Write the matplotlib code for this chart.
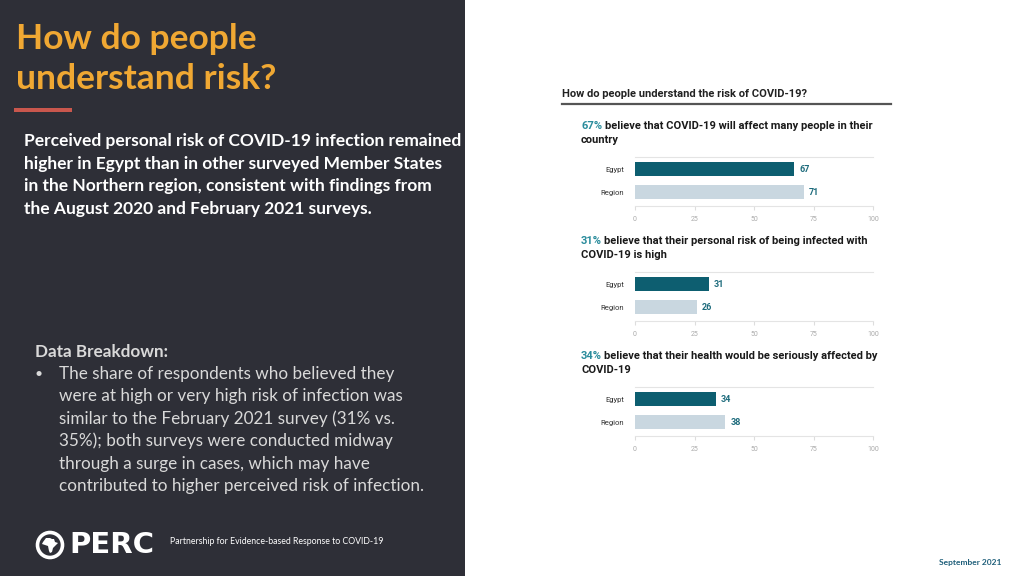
import matplotlib.pyplot as plt
from matplotlib.patches import Rectangle, Circle, Polygon

# data
categories = ['Egypt', 'Region']
panel_titles = [
    ('67%', 'believe that COVID-19 will affect many people in their', 'country'),
    ('31%', 'believe that their personal risk of being infected with', 'COVID-19 is high'),
    ('34%', 'believe that their health would be seriously affected by', 'COVID-19'),
]
panel_values = [
    [67, 71],
    [31, 26],
    [34, 38],
]
x_ticks = [0, 25, 50, 75, 100]

headline = ['How do people', 'understand risk?']
summary = [
    'Perceived personal risk of COVID-19 infection remained',
    'higher in Egypt than in other surveyed Member States',
    'in the Northern region, consistent with findings from',
    'the August 2020 and February 2021 surveys.',
]
breakdown = [
    'The share of respondents who believed they',
    'were at high or very high risk of infection was',
    'similar to the February 2021 survey (31% vs.',
    '35%); both surveys were conducted midway',
    'through a surge in cases, which may have',
    'contributed to higher perceived risk of infection.',
]

W, H = 1024, 576
DARK = '#2e2f37'
TEAL = '#0d5e70'
LIGHT = '#c9d7e0'
LBL = '#1d6b7c'

fig = plt.figure(figsize=(W / 100, H / 100), dpi=100)
fig.patch.set_facecolor('white')


def fx(x):
    return x / W


def fy(y):
    return 1 - y / H


# left dark panel
fig.add_artist(Rectangle((0, 0), fx(465), 1, transform=fig.transFigure,
                         facecolor=DARK, edgecolor='none', zorder=0))

for i, line in enumerate(headline):
    fig.text(fx(16), fy(39 + i * 40), line, color='#f0a833', fontsize=25.5,
             fontweight='bold', family='Lato', va='center', ha='left')

fig.add_artist(Rectangle((fx(14), fy(112)), fx(58), 4 / H, transform=fig.transFigure,
                         facecolor='#c9574d', edgecolor='none'))

for i, line in enumerate(summary):
    fig.text(fx(24), fy(141 + i * 22.7), line, color='white', fontsize=12.5,
             fontweight='bold', family='Lato', va='center', ha='left')

fig.text(fx(35), fy(352), 'Data Breakdown:', color='#d9d9d9', fontsize=12.3,
         fontweight='bold', family='Lato', va='center', ha='left')
fig.text(fx(35), fy(374), '•', color='#d9d9d9', fontsize=10, family='Lato',
         va='center', ha='left')
for i, line in enumerate(breakdown):
    fig.text(fx(59), fy(374 + i * 22.4), line, color='#d9d9d9', fontsize=12.3,
             family='Lato', va='center', ha='left')

# PERC logo (small equal-aspect axes)
lax = fig.add_axes([fx(35), fy(560), 30 / W, 30 / H])
lax.set_xlim(-15, 15)
lax.set_ylim(-15, 15)
lax.set_aspect('equal')
lax.axis('off')
lax.add_patch(Circle((0, 0), 12.5, facecolor='none', edgecolor='white', linewidth=2.6))
africa = [(-7, 3), (-4, 7), (0, 7), (2, 6), (4, 6), (5, 3), (8, 2), (5, -1),
          (3, -3), (2, -7), (0, -8), (-1, -6), (-2, -1), (-5, 0), (-8, 1)]
lax.add_patch(Polygon(africa, closed=True, facecolor='white', edgecolor='none'))
fig.text(fx(69), fy(545), 'PERC', color='white', fontsize=21, fontweight='bold',
         family='DejaVu Sans', va='center', ha='left')
fig.text(fx(170), fy(542), 'Partnership for Evidence-based Response to COVID-19',
         color='white', fontsize=6.3, family='Lato', va='center', ha='left')

fig.text(fx(1001), fy(562), 'September 2021', color='#1f5f7a', fontsize=6,
         fontweight='bold', family='Lato', va='center', ha='right')

# right-hand chart header
fig.text(fx(562), fy(94), 'How do people understand the risk of COVID-19?',
         color='#222222', fontsize=8, fontweight='bold', family='Roboto',
         va='center', ha='left')
fig.add_artist(plt.Line2D([fx(562), fx(891)], [fy(104), fy(104)],
                          transform=fig.transFigure, color='#555555', linewidth=1.6))

fig.canvas.draw()
for k in range(3):
    off = k * 115
    pct, rest, line2 = panel_titles[k]
    t = fig.text(fx(581), fy(126 + off), pct, color='#2a8c9c', fontsize=8,
                 fontweight='bold', family='Roboto', va='center', ha='left')
    bb = t.get_window_extent(renderer=fig.canvas.get_renderer())
    fig.text((bb.x1 + 2.5) / W, fy(126 + off), rest, color='#1a1a1a', fontsize=8,
             fontweight='bold', family='Roboto', va='center', ha='left')
    fig.text(fx(581), fy(140 + off), line2, color='#1a1a1a', fontsize=8,
             fontweight='bold', family='Roboto', va='center', ha='left')

    top, bottom = 157 + off, 206 + off
    ax = fig.add_axes([fx(635), fy(bottom), fx(873) - fx(635), (bottom - top) / H])
    vals = panel_values[k]
    ax.barh([0, 1], vals, height=0.62, color=[TEAL, LIGHT])
    for j, v in enumerate(vals):
        ax.text(v + 2, j, str(v), color=LBL, fontsize=6.5, fontweight='bold',
                family='Roboto', va='center', ha='left')
    ax.set_xlim(0, 100)
    ax.set_ylim(1.6, -0.52)
    ax.set_yticks([0, 1])
    ax.set_yticklabels(categories, fontsize=5.5, color='#333333', family='Roboto')
    ax.set_xticks(x_ticks)
    ax.set_xticklabels([str(t) for t in x_ticks], fontsize=5, color='#aaaaaa',
                       family='Roboto')
    ax.tick_params(axis='y', length=0, pad=8)
    ax.tick_params(axis='x', length=3, color='#dddddd', pad=4)
    for s in ['left', 'right']:
        ax.spines[s].set_visible(False)
    for s in ['top', 'bottom']:
        ax.spines[s].set_color('#e4e4e4')
        ax.spines[s].set_linewidth(0.8)
    ax.set_facecolor('none')

fig.savefig('out.png', dpi=100, facecolor=fig.get_facecolor())
